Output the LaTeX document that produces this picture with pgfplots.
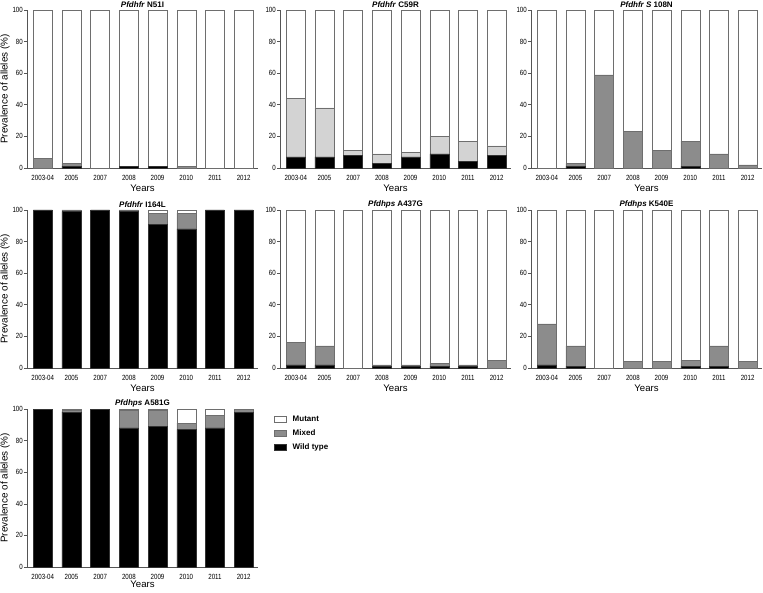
\documentclass[border=0pt]{standalone}
\usepackage{fontspec}
\setmainfont{Liberation Sans}
\newfontfamily\narrowsans[FakeStretch=0.82]{Liberation Sans}
\usepackage{pgfplots}
\usepackage{pgfplotstable}
\pgfplotsset{compat=1.18}
\definecolor{mixgrey}{HTML}{8C8C8C}
\definecolor{lightmix}{HTML}{D3D3D3}
\definecolor{edge}{HTML}{6E6E6E}
\definecolor{axcol}{HTML}{555555}

% columns: x wild mixed mutant
\pgfplotstableread{
x wild mixed mutant
0 0 6 94
1 1 2 97
2 0 0 100
3 1 0 99
4 1 0 99
5 0 1 99
6 0 0 100
7 0 0 100
}\tabNfiveone
\pgfplotstableread{
x wild mixed mutant
0 7 37 56
1 7 31 62
2 8 3 89
3 3 6 91
4 7 3 90
5 9 11 80
6 4 13 83
7 8 6 86
}\tabCfivenine
\pgfplotstableread{
x wild mixed mutant
0 0 0 100
1 1 2 97
2 0 59 41
3 0 23 77
4 0 11 89
5 1 16 83
6 0 9 91
7 0 2 98
}\tabSoneoeight
\pgfplotstableread{
x wild mixed mutant
0 100 0 0
1 99 1 0
2 100 0 0
3 99 1 0
4 91 7 2
5 88 10 2
6 100 0 0
7 100 0 0
}\tabIonesixfour
\pgfplotstableread{
x wild mixed mutant
0 2 14 84
1 2 12 86
2 0 0 100
3 1 1 98
4 1 1 98
5 1 2 97
6 1 1 98
7 0 5 95
}\tabAfourthree
\pgfplotstableread{
x wild mixed mutant
0 2 26 72
1 1 13 86
2 0 0 100
3 0 4 96
4 0 4 96
5 1 4 95
6 1 13 86
7 0 4 96
}\tabKfivefour
\pgfplotstableread{
x wild mixed mutant
0 100 0 0
1 98 1 1
2 100 0 0
3 88 11 1
4 89 10 1
5 87 4 9
6 88 8 4
7 98 2 0
}\tabAfiveeight

\newcommand{\tickfont}{\narrowsans\fontsize{7.5}{8}\selectfont}
\newcommand{\ptitle}[1]{\node[anchor=center, inner sep=0pt, font=\bfseries\fontsize{8}{9}\selectfont] at (axis description cs:0.5,1.036) {#1};}
\pgfplotsset{
  panel/.style={
    scale only axis, width=231pt, height=158pt,
    anchor=south west,
    ybar stacked, bar width=19pt,
    ymin=0, ymax=100, xmin=-0.55, xmax=7.5,
    axis lines*=left,
    axis line style={draw=axcol, line width=0.6pt},
    ytick={0,20,...,100},
    xtick={0,...,7},
    xticklabels={2003-04,2005,2007,2008,2009,2010,2011,2012},
    x tick style={draw=none},
    y tick style={draw=axcol, line width=0.6pt},
    tick align=outside,
    major tick length=3pt,
    /pgf/number format/assume math mode=true,
    yticklabel style={font=\tickfont, inner sep=1pt},
    xticklabel style={font=\tickfont, inner sep=1pt, yshift=-3pt},
    xlabel={Years},
    xlabel style={at={(axis description cs:0.5,-0.127)}, anchor=center, font=\fontsize{9.6}{10}\selectfont},
    ylabel style={at={(axis description cs:-0.095,0.5)}, anchor=center, font=\fontsize{9.9}{10}\selectfont},
    clip=false,
  },
  wt/.style={fill=black, draw=black!80, line width=0.5pt},
  mx/.style={fill=mixgrey, draw=edge, line width=0.5pt},
  lmx/.style={fill=lightmix, draw=edge, line width=0.5pt},
  mu/.style={fill=white, draw=edge, line width=0.5pt},
  boxlegend/.style={legend image code/.code={\draw[##1] (0pt,-3pt) rectangle (12pt,3pt);}},
}

\begin{document}
\begin{tikzpicture}
\useasboundingbox (0,0) rectangle (763pt,592pt);

% Row 1
\begin{axis}[panel, at={(27pt,424pt)}, ylabel={Prevalence of alleles (\%)}]
\addplot[wt] table[x=x,y=wild]{\tabNfiveone};
\addplot[mx] table[x=x,y=mixed]{\tabNfiveone};
\addplot[mu] table[x=x,y=mutant]{\tabNfiveone};
\ptitle{\textit{Pfdhfr} N51I}
\end{axis}
\begin{axis}[panel, at={(280pt,424pt)}]
\addplot[wt] table[x=x,y=wild]{\tabCfivenine};
\addplot[lmx] table[x=x,y=mixed]{\tabCfivenine};
\addplot[mu] table[x=x,y=mutant]{\tabCfivenine};
\ptitle{\textit{Pfdhfr} C59R}
\end{axis}
\begin{axis}[panel, at={(531pt,424pt)}]
\addplot[wt] table[x=x,y=wild]{\tabSoneoeight};
\addplot[mx] table[x=x,y=mixed]{\tabSoneoeight};
\addplot[mu] table[x=x,y=mutant]{\tabSoneoeight};
\ptitle{\textit{Pfdhfr S} 108N}
\end{axis}

% Row 2
\begin{axis}[panel, at={(27pt,224pt)}, ylabel={Prevalence of alleles (\%)}]
\addplot[wt] table[x=x,y=wild]{\tabIonesixfour};
\addplot[mx] table[x=x,y=mixed]{\tabIonesixfour};
\addplot[mu] table[x=x,y=mutant]{\tabIonesixfour};
\ptitle{\textit{Pfdhfr} I164L}
\end{axis}
\begin{axis}[panel, at={(280pt,224pt)}]
\addplot[wt] table[x=x,y=wild]{\tabAfourthree};
\addplot[mx] table[x=x,y=mixed]{\tabAfourthree};
\addplot[mu] table[x=x,y=mutant]{\tabAfourthree};
\ptitle{\textit{Pfdhps} A437G}
\end{axis}
\begin{axis}[panel, at={(531pt,224pt)}]
\addplot[wt] table[x=x,y=wild]{\tabKfivefour};
\addplot[mx] table[x=x,y=mixed]{\tabKfivefour};
\addplot[mu] table[x=x,y=mutant]{\tabKfivefour};
\ptitle{\textit{Pfdhps} K540E}
\end{axis}

% Row 3
\begin{axis}[panel, at={(27pt,25pt)}, ylabel={Prevalence of alleles (\%)},
  xlabel style={at={(axis description cs:0.5,-0.112)}},
  reverse legend,
  legend style={at={(axis description cs:1.065,0.975)}, anchor=north west, draw=none, fill=none,
    font=\bfseries\fontsize{8}{9}\selectfont, row sep=2.5pt, inner sep=1pt,
    /tikz/every odd column/.append style={column sep=4pt}},
  legend cell align=left]
\addplot[wt, boxlegend] table[x=x,y=wild]{\tabAfiveeight};
\addplot[mx, boxlegend] table[x=x,y=mixed]{\tabAfiveeight};
\addplot[mu, boxlegend] table[x=x,y=mutant]{\tabAfiveeight};
\legend{Wild type, Mixed, Mutant}
\ptitle{\textit{Pfdhps} A581G}
\end{axis}
\end{tikzpicture}
\end{document}
